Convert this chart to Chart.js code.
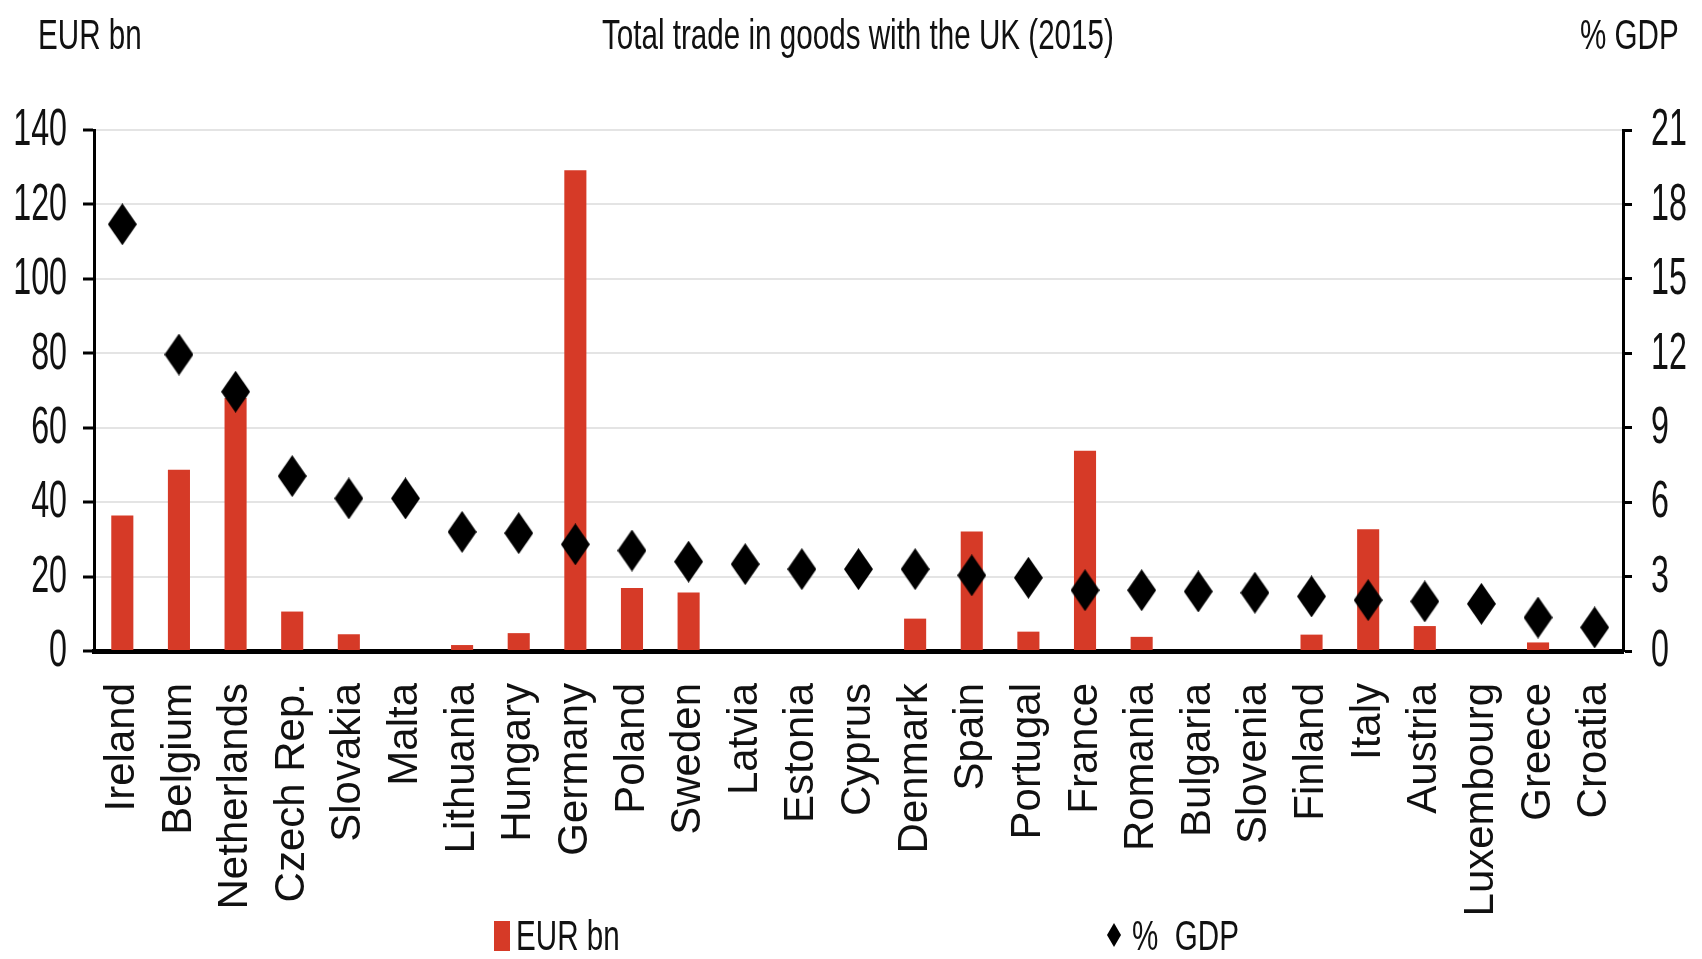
<!DOCTYPE html>
<html>
<head>
<meta charset="utf-8">
<script src="https://cdn.jsdelivr.net/npm/chart.js@4.4.1/dist/chart.umd.min.js"></script>
<style>
  html, body { margin: 0; padding: 0; background: #fff; }
  #wrap { position: relative; width: 1702px; height: 959px; }
  #chart { position: absolute; left: 0; top: 0; }
  .narrow {
    position: absolute;
    font-family: "Liberation Sans", Arial, sans-serif;
    font-size: 42px;
    line-height: 42px;
    color: #111;
    white-space: nowrap;
    transform: scaleX(0.705);
    transform-origin: left center;
  }
  .swatch { position: absolute; }
</style>
</head>
<body>
<div id="wrap">
  <canvas id="chart" width="1702" height="959"></canvas>
  <div class="narrow" style="left:38px; top:14px;">EUR bn</div>
  <div class="narrow" style="left:602px; top:14px;">Total trade in goods with the UK (2015)</div>
  <div class="narrow" style="left:1580px; top:14px;">% GDP</div>
  <div class="swatch" style="left:494px; top:921px; width:16px; height:30px; background:#d63a27;"></div>
  <div class="narrow" style="left:516px; top:915px;">EUR bn</div>
  <canvas class="swatch" id="legDiamond" width="14" height="24" style="left:1107px; top:923px;"></canvas>
  <div class="narrow" style="left:1132px; top:915px;">%&nbsp;&nbsp;GDP</div>
</div>
<script>
// 国名
const countries = ['Ireland', 'Belgium', 'Netherlands', 'Czech Rep.', 'Slovakia', 'Malta', 'Lithuania',
  'Hungary', 'Germany', 'Poland', 'Sweden', 'Latvia', 'Estonia', 'Cyprus', 'Denmark', 'Spain',
  'Portugal', 'France', 'Romania', 'Bulgaria', 'Slovenia', 'Finland', 'Italy', 'Austria',
  'Luxembourg', 'Greece', 'Croatia'];

// 英国との財貿易額 (EUR bn)
const tradeEur = [36.4, 48.7, 68, 10.6, 4.5, 0, 1.6, 4.8, 129.2, 16.9, 15.7, 0, 0, 0, 8.7, 32.1,
  5.2, 53.8, 3.8, 0, 0, 4.4, 32.7, 6.7, 0, 2.3, 0];

// GDP比 (%)
const tradeGdp = [17.2, 11.95, 10.45, 7.05, 6.15, 6.15, 4.8, 4.75, 4.3, 4.05, 3.6, 3.5, 3.3, 3.3,
  3.3, 3.05, 2.95, 2.45, 2.45, 2.4, 2.35, 2.2, 2.05, 2.0, 1.9, 1.35, 0.95];

// 軸の目盛り
const leftTicks = [0, 20, 40, 60, 80, 100, 120, 140];
const rightTicks = [0, 3, 6, 9, 12, 15, 18, 21];

// 色設定
const colors = {
  bar: '#d63a27',
  marker: '#000000',
  grid: '#e4e4e4',
  axis: '#000000',
  text: '#111111'
};

// ひし形マーカー（縦長）
function makeDiamond(w, h, canvas) {
  const c = canvas || document.createElement('canvas');
  c.width = w;
  c.height = h;
  const g = c.getContext('2d');
  g.fillStyle = colors.marker;
  g.beginPath();
  g.moveTo(w / 2, 0);
  g.lineTo(w, h / 2);
  g.lineTo(w / 2, h);
  g.lineTo(0, h / 2);
  g.closePath();
  g.fill();
  return c;
}
const diamond = makeDiamond(29, 42);
makeDiamond(14, 24, document.getElementById('legDiamond'));

// 縦軸ラベルを細長い字体で描く（狭幅フォントがないため横方向に縮める）
const condensedTicks = {
  id: 'condensedTicks',
  afterDraw(chart) {
    const ctx = chart.ctx;
    const axes = [
      { scale: chart.scales.y, values: leftTicks, align: 'right', x: chart.scales.y.right - 27 },
      { scale: chart.scales.y1, values: rightTicks, align: 'left', x: chart.scales.y1.left + 28 }
    ];
    ctx.save();
    ctx.fillStyle = colors.text;
    ctx.font = '52px "Liberation Sans", Arial, sans-serif';
    ctx.textBaseline = 'middle';
    axes.forEach(a => {
      ctx.textAlign = a.align;
      a.values.forEach(v => {
        ctx.save();
        ctx.translate(a.x, a.scale.getPixelForValue(v) + 1);
        ctx.scale(0.62, 1);
        ctx.fillText(String(v), 0, 0);
        ctx.restore();
      });
    });
    ctx.restore();
  }
};

new Chart(document.getElementById('chart'), {
  type: 'bar',
  data: {
    labels: countries,
    datasets: [
      {
        type: 'line',
        label: '% GDP',
        data: tradeGdp,
        yAxisID: 'y1',
        showLine: false,
        pointStyle: diamond,
        pointRadius: 15,
        pointHoverRadius: 15,
        order: 0
      },
      {
        type: 'bar',
        label: 'EUR bn',
        data: tradeEur,
        yAxisID: 'y',
        backgroundColor: colors.bar,
        categoryPercentage: 1,
        barPercentage: 0.39,
        order: 1
      }
    ]
  },
  options: {
    responsive: false,
    animation: false,
    layout: { padding: { top: 130, left: 0, right: 0, bottom: 0 } },
    plugins: {
      legend: { display: false },
      title: { display: false },
      tooltip: { enabled: false }
    },
    scales: {
      x: {
        grid: { display: false, drawTicks: false },
        border: { color: colors.axis, width: 5 },
        ticks: {
          color: colors.text,
          font: { family: '"Liberation Sans", Arial, sans-serif', size: 42 },
          minRotation: 90,
          maxRotation: 90,
          autoSkip: false,
          padding: 32
        },
        afterFit: (s) => { s.height = 308; }
      },
      y: {
        position: 'left',
        min: 0,
        max: 140,
        afterBuildTicks: (s) => { s.ticks = leftTicks.map(v => ({ value: v })); },
        grid: { color: colors.grid, lineWidth: 2, tickColor: colors.axis, tickLength: 11, tickWidth: 3 },
        border: { color: colors.axis, width: 3 },
        ticks: { display: false },
        afterFit: (s) => { s.width = 94; }
      },
      y1: {
        position: 'right',
        min: 0,
        max: 21,
        afterBuildTicks: (s) => { s.ticks = rightTicks.map(v => ({ value: v })); },
        grid: { drawOnChartArea: false, tickColor: colors.axis, tickLength: 9, tickWidth: 3 },
        border: { color: colors.axis, width: 3 },
        ticks: { display: false },
        afterFit: (s) => { s.width = 79; }
      }
    }
  },
  plugins: [condensedTicks]
});
</script>
</body>
</html>
